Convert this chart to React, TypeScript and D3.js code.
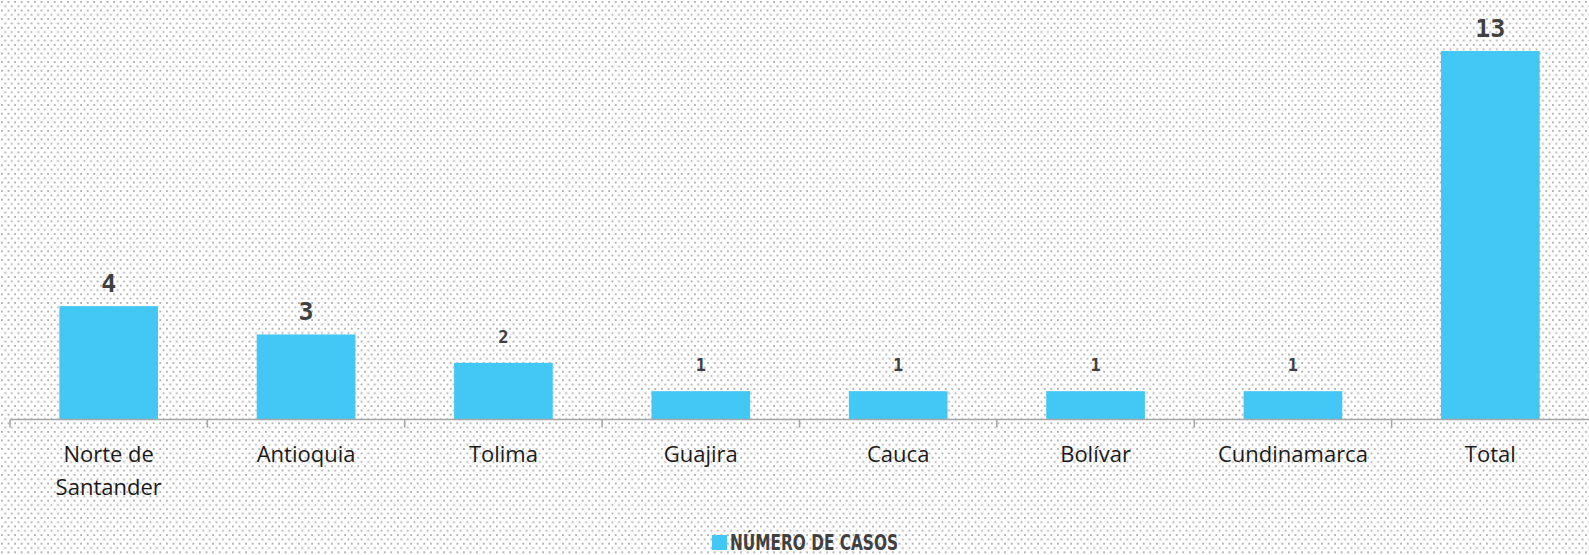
import React from "react";
import * as d3 from "d3";

const WIDTH = 1589;
const HEIGHT = 555;
const MARGIN = { top: 51, left: 10, right: 0, bottom: 136 };

const categories = [
  "Norte de Santander",
  "Antioquia",
  "Tolima",
  "Guajira",
  "Cauca",
  "Bolívar",
  "Cundinamarca",
  "Total",
];
const labelLines = [
  ["Norte de", "Santander"],
  ["Antioquia"],
  ["Tolima"],
  ["Guajira"],
  ["Cauca"],
  ["Bolívar"],
  ["Cundinamarca"],
  ["Total"],
];
const casos = [4, 3, 2, 1, 1, 1, 1, 13];
const seriesName = "NÚMERO DE CASOS";

// the value labels in the original are not all the same size
const labelSize = (v: number) => (v >= 3 ? 25 : 17);

export default function App() {
  const x = d3
    .scaleBand()
    .domain(categories)
    .range([MARGIN.left, WIDTH - MARGIN.right])
    .paddingInner(0.5)
    .paddingOuter(0.25);
  const xTicks = d3
    .scaleBand()
    .domain(categories)
    .range([MARGIN.left, WIDTH - MARGIN.right]);
  const y = d3
    .scaleLinear()
    .domain([0, d3.max(casos) as number])
    .range([HEIGHT - MARGIN.bottom + 0.5, MARGIN.top]);
  const base = y(0);

  return (
    <svg
      width={WIDTH}
      height={HEIGHT}
      style={{ position: "absolute", left: 0, top: 0 }}
    >
      <defs>
        <pattern
          id="dots"
          width={6.6}
          height={8.6}
          patternUnits="userSpaceOnUse"
        >
          <rect x={1} y={1} width={1.8} height={1.8} fill="#aaaaaa" />
          <rect x={4.3} y={5.3} width={1.8} height={1.8} fill="#aaaaaa" />
        </pattern>
      </defs>
      <rect width={WIDTH} height={HEIGHT} fill="#fff" />
      <rect width={WIDTH} height={HEIGHT} fill="url(#dots)" />

      {categories.map((c, i) => (
        <rect
          key={c}
          x={x(c)}
          y={y(casos[i])}
          width={x.bandwidth()}
          height={base - y(casos[i])}
          fill="#43c8f5"
        />
      ))}

      <line
        x1={MARGIN.left}
        x2={WIDTH}
        y1={base}
        y2={base}
        stroke="#a6a6a6"
        strokeWidth={1.5}
      />
      {categories.map((c) => (
        <line
          key={c}
          x1={xTicks(c)}
          x2={xTicks(c)}
          y1={base}
          y2={base + 8}
          stroke="#a6a6a6"
          strokeWidth={1.5}
        />
      ))}

      {categories.map((c, i) => (
        <text
          key={c}
          x={(x(c) as number) + x.bandwidth() / 2}
          y={y(casos[i]) - (casos[i] >= 3 ? 14 : 20)}
          textAnchor="middle"
          fontFamily="'DejaVu Sans Mono', monospace"
          fontWeight="bold"
          fontSize={labelSize(casos[i])}
          fill="#404040"
        >
          {casos[i]}
        </text>
      ))}

      {categories.map((c, i) => (
        <text
          key={c}
          x={(x(c) as number) + x.bandwidth() / 2}
          y={462}
          textAnchor="middle"
          fontFamily="'Open Sans', sans-serif"
          fontSize={22}
          fill="#1a1a1a"
        >
          {labelLines[i].map((l, j) => (
            <tspan key={j} x={(x(c) as number) + x.bandwidth() / 2} dy={j === 0 ? 0 : 33}>
              {l}
            </tspan>
          ))}
        </text>
      ))}

      <rect x={712} y={535} width={15} height={15} fill="#43c8f5" />
      <text
        x={730}
        y={550}
        fontFamily="'DejaVu Sans Condensed', 'DejaVu Sans', sans-serif"
        fontStretch="condensed"
        fontWeight="bold"
        fontSize={22}
        textLength={168}
        lengthAdjust="spacingAndGlyphs"
        fill="#404040"
      >
        {seriesName}
      </text>
    </svg>
  );
}
